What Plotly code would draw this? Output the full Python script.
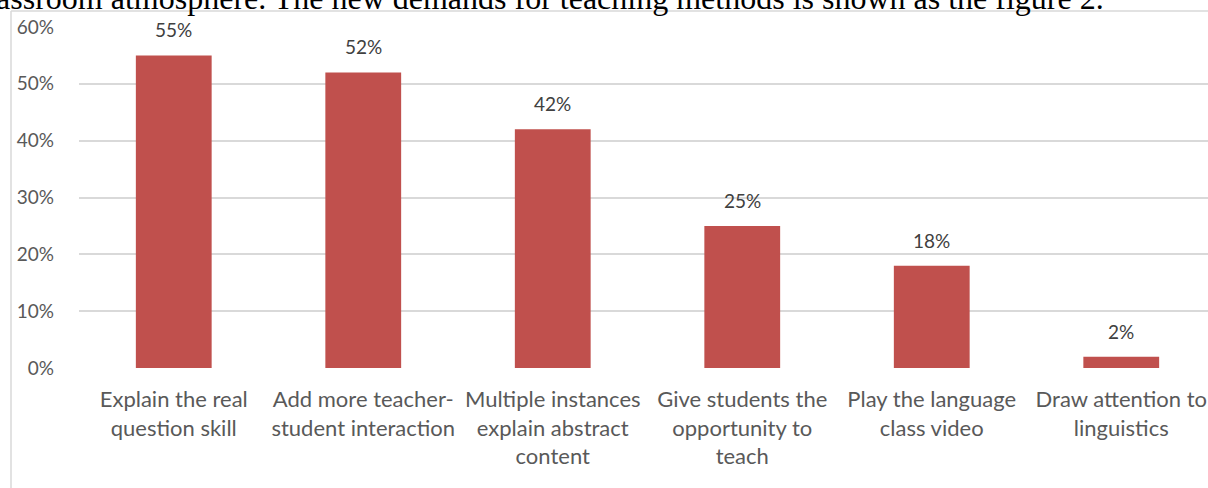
import plotly.graph_objects as go

categories = [
    "Explain the real<br>question skill",
    "Add more teacher-<br>student interaction",
    "Multiple instances<br>explain abstract<br>content",
    "Give students the<br>opportunity to<br>teach",
    "Play the language<br>class video",
    "Draw attention to<br>linguistics",
]
values = [0.55, 0.52, 0.42, 0.25, 0.18, 0.02]
value_labels = ["55%", "52%", "42%", "25%", "18%", "2%"]
y_ticks = [0, 0.1, 0.2, 0.3, 0.4, 0.5, 0.6]
y_tick_labels = ["0%", "10%", "20%", "30%", "40%", "50%", "60%"]
heading = "classroom atmosphere. The new demands for teaching methods is shown as the figure 2."

W, H = 1208, 488
L, R, T, B = 79, 0, 27, 120
pw = W - L - R
ph = H - T - B

FONT = "Lato"

fig = go.Figure()
fig.add_trace(go.Bar(
    x=list(range(len(categories))),
    y=values,
    marker=dict(color="#c0504d", line=dict(width=0)),
    width=0.4,
    hoverinfo="skip",
))

for i, (v, lab) in enumerate(zip(values, value_labels)):
    fig.add_annotation(x=i, y=v, xref="x", yref="y", text=lab, showarrow=False,
                       yanchor="bottom", yshift=12,
                       font=dict(family=FONT, size=19, color="#404040"))

# document heading text cut at the top
fig.add_annotation(x=(1106 - L) / pw, y=1 + (T - 18) / ph, xref="paper", yref="paper",
                   text=heading, showarrow=False, xanchor="right", yanchor="bottom",
                   font=dict(family="Liberation Serif", size=32, color="#000000"))

# chart area border
bx = (11 - L) / pw
by = 1 + (T - 11) / ph
fig.add_shape(type="line", xref="paper", yref="paper", x0=bx, x1=bx, y0=by, y1=-1,
              line=dict(color="#d9d9d9", width=1.5))
fig.add_shape(type="line", xref="paper", yref="paper", x0=bx, x1=1.2, y0=by, y1=by,
              line=dict(color="#d9d9d9", width=1.5))

fig.update_layout(
    width=W, height=H,
    margin=dict(l=L, r=R, t=T, b=B, pad=0),
    paper_bgcolor="white", plot_bgcolor="white",
    showlegend=False,
    xaxis=dict(
        range=[-0.5, 5.5 - 8 / 189.6],
        tickvals=list(range(len(categories))),
        ticktext=categories,
        tickfont=dict(family=FONT, size=22, color="#595959"),
        showgrid=False, zeroline=False, showline=False, ticks="",
        ticklabelstandoff=16,
    ),
    yaxis=dict(
        range=[0, 0.6],
        tickvals=y_ticks,
        ticktext=y_tick_labels,
        tickfont=dict(family=FONT, size=19, color="#595959"),
        showgrid=True, gridcolor="#d9d9d9", gridwidth=1.5,
        zeroline=False, showline=False, ticks="",
        ticklabelstandoff=24,
    ),
)

fig.write_html(
    "out.html",
    config={"displayModeBar": False},
    post_script="document.body.style.margin='0';document.body.style.overflow='hidden';",
)
